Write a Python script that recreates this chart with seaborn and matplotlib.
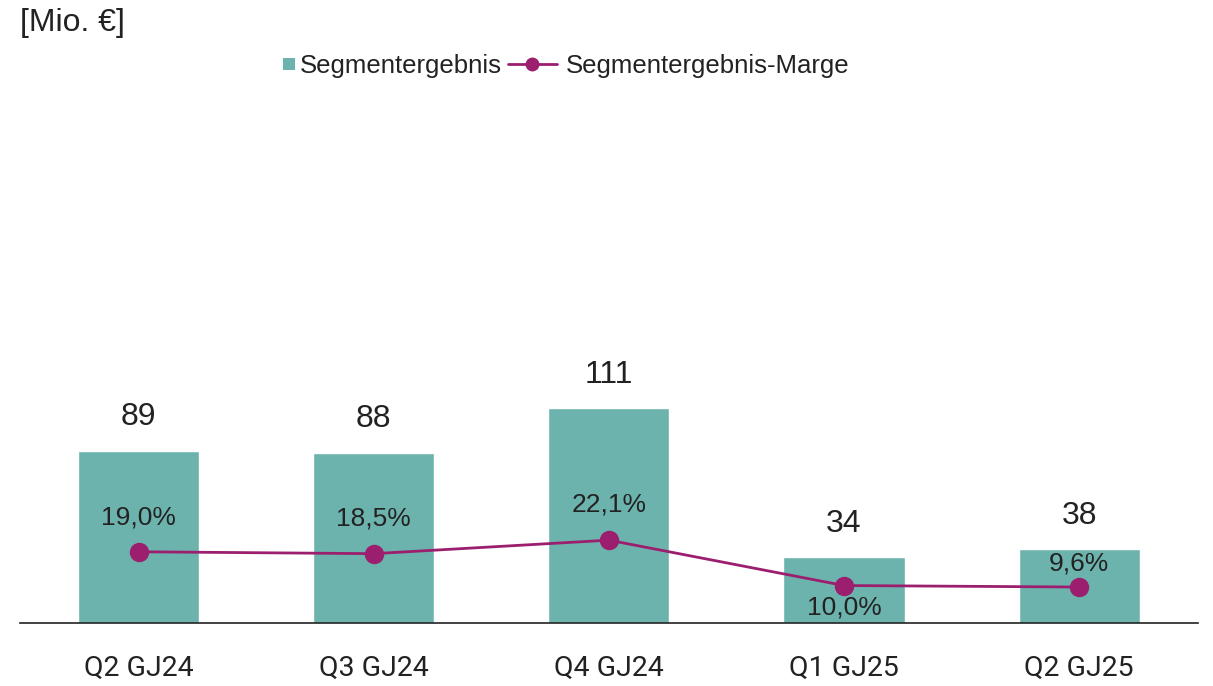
import matplotlib
matplotlib.use("Agg")
import matplotlib.pyplot as plt
from matplotlib.lines import Line2D
import seaborn as sns
import pandas as pd

# data
quarters = ["Q2 GJ24", "Q3 GJ24", "Q4 GJ24", "Q1 GJ25", "Q2 GJ25"]
ergebnis = [89, 88, 111, 34, 38]
marge = [19.0, 18.5, 22.1, 10.0, 9.6]
marge_labels = ["19,0%", "18,5%", "22,1%", "10,0%", "9,6%"]

teal = "#6db3ad"
purple = "#9b1f6e"
text_col = "#222222"

sns.set_theme(style="white")
plt.rcParams["font.family"] = ["Liberation Sans", "DejaVu Sans"]

df = pd.DataFrame({"quarter": quarters, "ergebnis": ergebnis, "marge": marge})

fig = plt.figure(figsize=(12.13, 6.86), dpi=100)
ax = fig.add_axes([0.0165, 0.0918, 0.971, 0.7625])

sns.barplot(data=df, x="quarter", y="ergebnis", color=teal, width=0.515,
            saturation=1, ax=ax)
ax.set_ylim(0, 270)
ax.set_xlim(-0.505, 4.505)

for i, v in enumerate(ergebnis):
    ax.annotate(str(v), (i, v), xytext=(0, 24), textcoords="offset points",
                ha="center", va="center", fontsize=23, color=text_col)

ax2 = ax.twinx()
sns.lineplot(x=list(range(len(quarters))), y=marge, color=purple, linewidth=2,
             marker="o", markersize=14, markeredgewidth=0, ax=ax2)
ax2.set_ylim(0, 139.5)
ax2.set_xlim(-0.505, 4.505)

# percent labels: above the point, except Q1 GJ25 which sits below
pct_offsets = [25, 25, 26, -16, 17]
for i, (v, lab) in enumerate(zip(marge, marge_labels)):
    ax2.annotate(lab, (i, v), xytext=(0, pct_offsets[i]), textcoords="offset points",
                 ha="center", va="center", fontsize=19, color=text_col)

for a in (ax, ax2):
    for side in ["top", "right", "left", "bottom"]:
        a.spines[side].set_visible(False)
    a.set_yticks([])
    a.set_ylabel("")
ax.spines["bottom"].set_visible(True)
ax.spines["bottom"].set_color(text_col)
ax.spines["bottom"].set_linewidth(1.2)

ax.set_xlabel("")
ax.tick_params(axis="x", length=0, pad=23, labelsize=20.5, colors=text_col)
for t in ax.get_xticklabels():
    t.set_fontfamily(["Roboto", "DejaVu Sans"])

fig.text(0.0165, 0.967, "[Mio. €]", fontsize=23, color=text_col, ha="left", va="center")

# legend: two pieces so the square sits tight against its text
sq = Line2D([0], [0], marker="s", color="none", markerfacecolor=teal,
            markeredgewidth=0, markersize=9)
ln = Line2D([0], [0], color=purple, linewidth=2, marker="o", markersize=10,
            markeredgewidth=0)
fig.legend([sq], ["Segmentergebnis"], loc="center left",
           bbox_to_anchor=(283 / 1213, 0.904), frameon=False, fontsize=18.5,
           handlelength=0.5, handletextpad=0.15, borderpad=0, borderaxespad=0,
           labelcolor=text_col)
fig.legend([ln], ["Segmentergebnis-Marge"], loc="center left",
           bbox_to_anchor=(508 / 1213, 0.904), frameon=False, fontsize=18.5,
           handlelength=1.9, handletextpad=0.35, borderpad=0, borderaxespad=0,
           labelcolor=text_col)

fig.savefig("out.png", dpi=100)
